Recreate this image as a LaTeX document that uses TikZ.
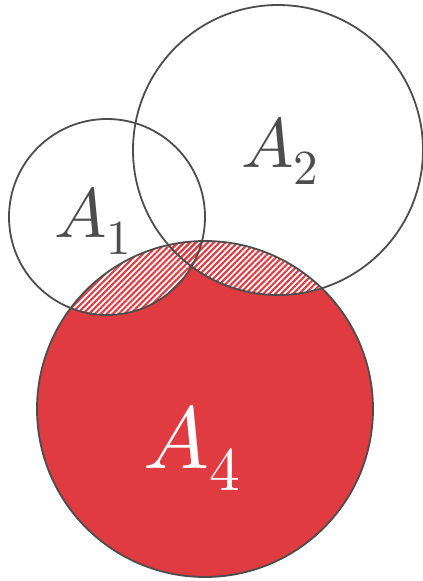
\documentclass[tikz,border=0pt]{standalone}
\usepackage{fontspec}
\usepackage{unicode-math}
\usetikzlibrary{patterns.meta}
\definecolor{vred}{HTML}{E03B41}
\definecolor{vgrey}{HTML}{4D4D4D}
\tikzset{
  outline/.style={draw=vgrey, line width=1.8pt},
  lbl/.style={text=vgrey, inner sep=0pt},
  hatch/.style={pattern={Lines[angle=45,distance=4.2pt,line width=2.1pt]}, pattern color=vred}
}
\begin{document}
\begin{tikzpicture}[x=1pt,y=1pt]
\useasboundingbox (0,0) rectangle (423,-581);
\coordinate (c1) at (107,-217);
\coordinate (c2) at (278,-150);
\coordinate (c4) at (205,-409);
% A4 red fill
\fill[vred] (c4) circle[radius=168];
% hatched intersections
\begin{scope}
  \clip (c4) circle[radius=168];
  \fill[white] (c1) circle[radius=98];
  \fill[white] (c2) circle[radius=145];
  \path[hatch] (c1) circle[radius=98];
  \path[hatch] (c2) circle[radius=145];
\end{scope}
% outlines
\draw[outline] (c1) circle[radius=98];
\draw[outline] (c2) circle[radius=145];
\draw[outline] (c4) circle[radius=168];
% labels
\node[lbl] (l1) at (93,-221) {\fontsize{70}{80}\selectfont $A_1$};
\node[lbl] (l2) at (280,-151) {\fontsize{70}{80}\selectfont $A_2$};
\node[lbl, text=white] (l4) at (192,-448) {\fontsize{88}{96}\selectfont $A_4$};
\end{tikzpicture}
\end{document}
